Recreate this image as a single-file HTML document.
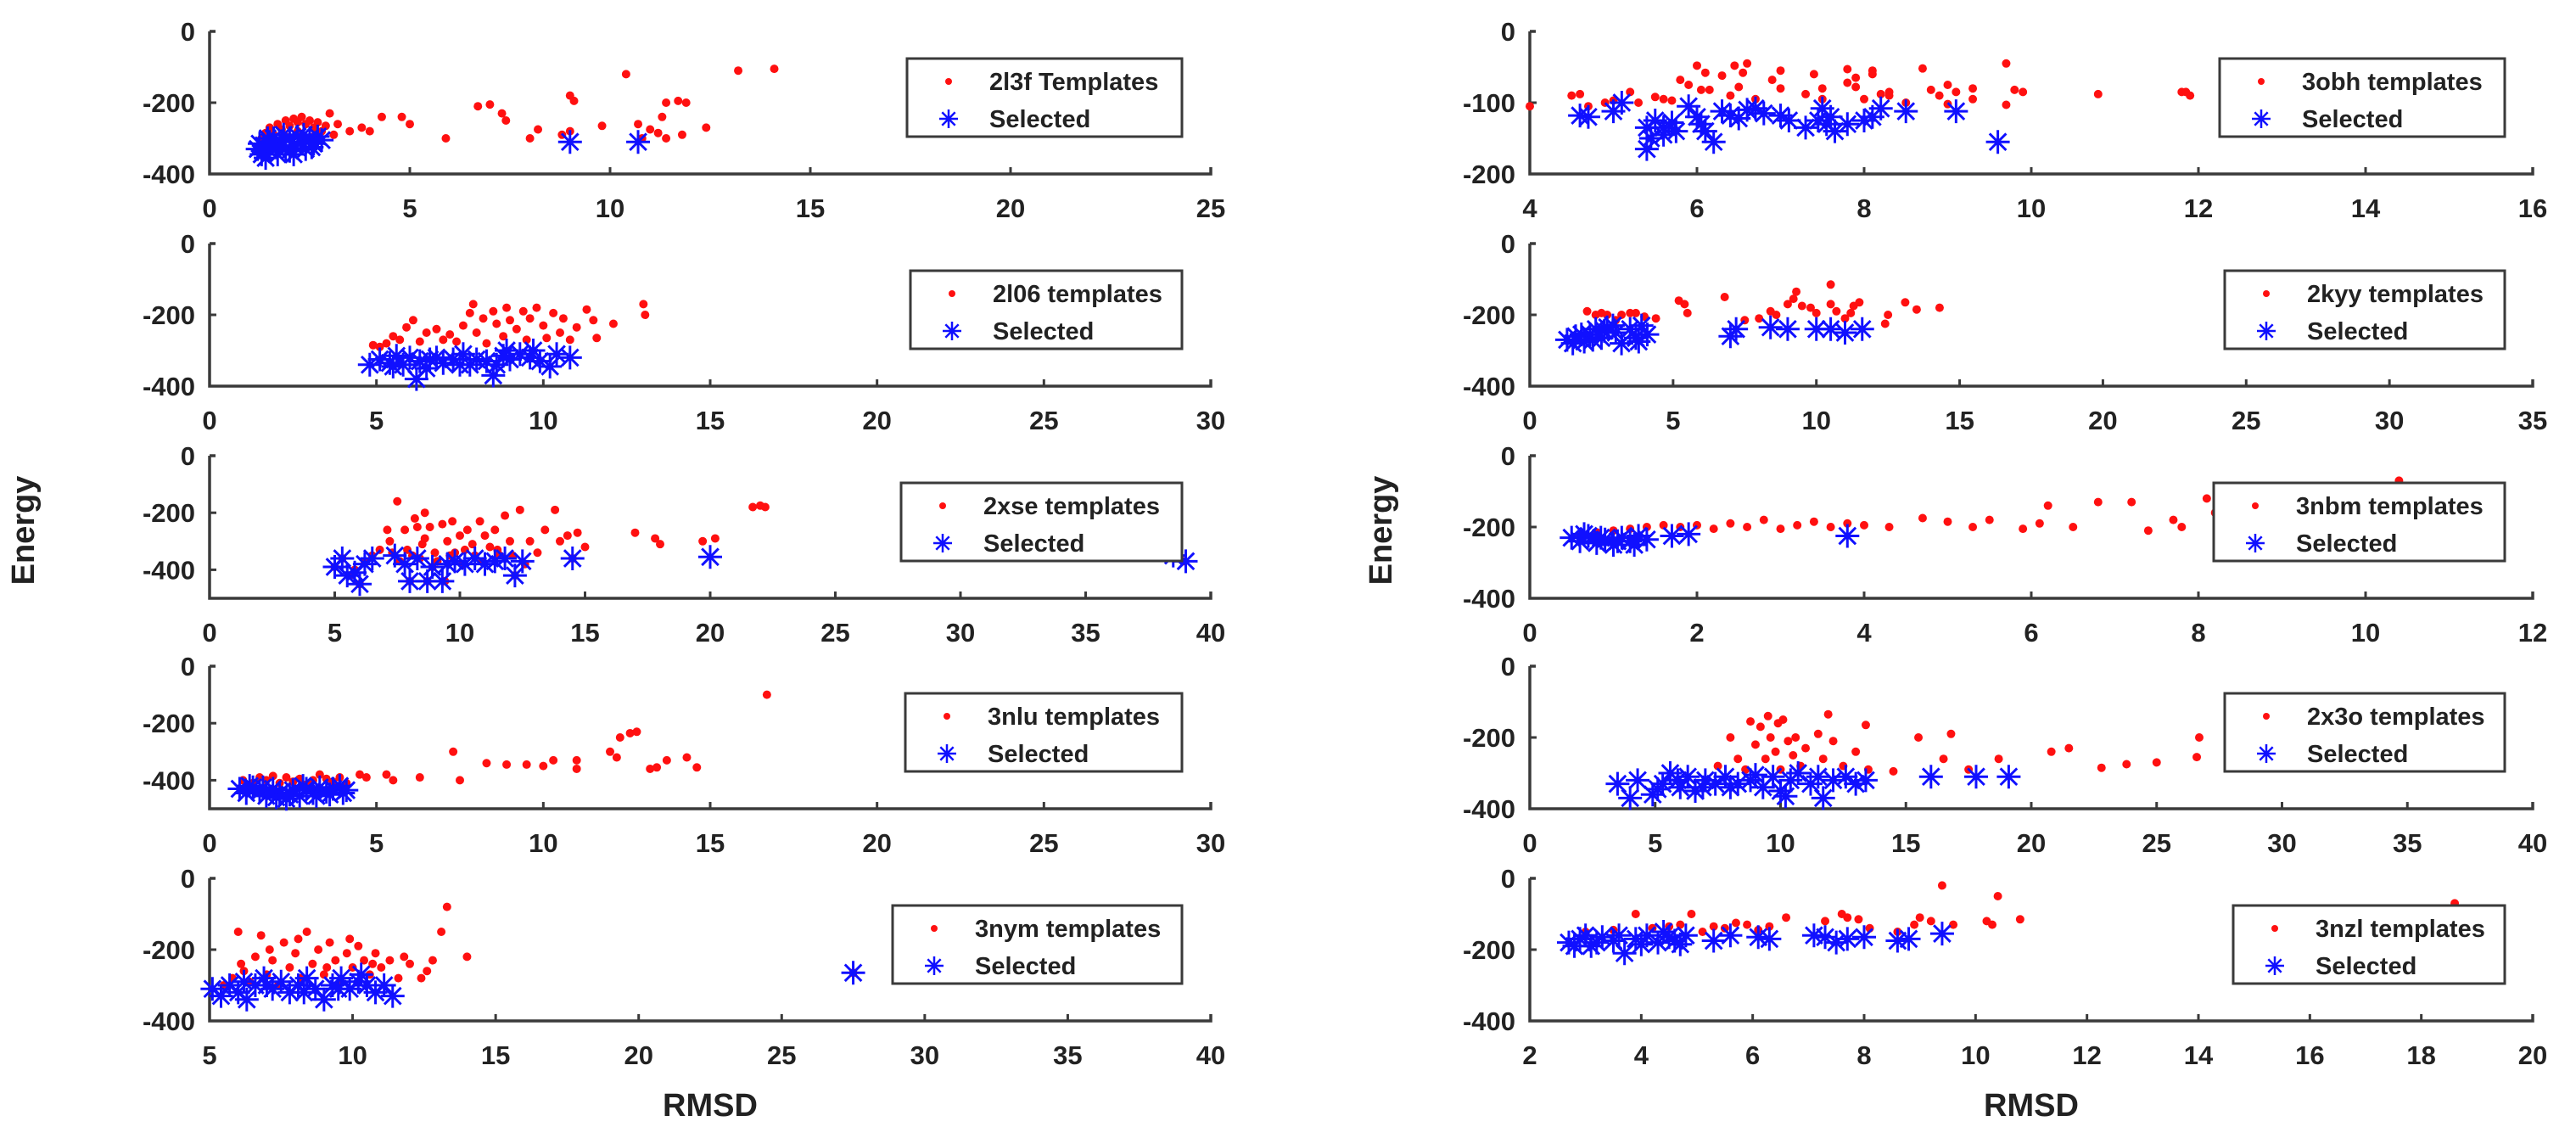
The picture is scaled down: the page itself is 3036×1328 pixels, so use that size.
<!DOCTYPE html>
<html><head><meta charset="utf-8"><style>
html,body{margin:0;padding:0;background:#fff;}
svg{display:block;font-family:"Liberation Sans",Arial,sans-serif;font-weight:bold;}
</style></head><body>
<svg id="chart" width="3036" height="1328" viewBox="0 0 3036 1328" xmlns="http://www.w3.org/2000/svg">
<rect width="3036" height="1328" fill="#fff"/>
<text transform="translate(40,625) rotate(-90)" text-anchor="middle" font-size="38" fill="#222">Energy</text>
<text transform="translate(1640,625) rotate(-90)" text-anchor="middle" font-size="38" fill="#222">Energy</text>
<text x="837" y="1315" text-anchor="middle" font-size="38" fill="#222">RMSD</text>
<text x="2394" y="1315" text-anchor="middle" font-size="38" fill="#222">RMSD</text>
</svg>
<script>
// ---- data ----
const panelNames = ["2l3f Templates","2l06 templates","2xse templates","3nlu templates","3nym templates","3obh templates","2kyy templates","3nbm templates","2x3o templates","3nzl templates"];
const xRanges = [[0,25],[0,30],[0,40],[0,30],[5,40],[4,16],[0,35],[0,12],[0,40],[2,20]];
const xTickLabels = [[0,5,10,15,20,25],[0,5,10,15,20,25,30],[0,5,10,15,20,25,30,35,40],[0,5,10,15,20,25,30],[5,10,15,20,25,30,35,40],[4,6,8,10,12,14,16],[0,5,10,15,20,25,30,35],[0,2,4,6,8,10,12],[0,5,10,15,20,25,30,35,40],[2,4,6,8,10,12,14,16,18,20]];
const yRanges = [[-400,0],[-400,0],[-500,0],[-500,0],[-400,0],[-200,0],[-400,0],[-400,0],[-400,0],[-400,0]];
const yTickLabels = [[0,-200,-400],[0,-200,-400],[0,-200,-400],[0,-200,-400],[0,-200,-400],[0,-100,-200],[0,-200,-400],[0,-200,-400],[0,-200,-400],[0,-200,-400]];

const tpl2l3f = [[1.3,-300],[1.4,-285],[1.5,-270],[1.6,-290],[1.7,-260],[1.8,-275],[1.9,-250],[2.0,-265],[2.1,-245],[2.2,-255],[2.3,-240],[2.4,-260],[2.5,-250],[2.6,-270],[2.7,-255],[2.8,-280],[2.9,-265],[3.0,-230],[2.2,-280],[1.9,-295],[2.6,-295],[3.1,-290],[3.2,-260],[3.5,-280],[3.8,-270],[4.0,-280],[4.3,-240],[4.8,-240],[5.0,-260],[5.9,-300],[6.7,-210],[7.0,-205],[7.3,-230],[7.4,-250],[8.0,-300],[8.2,-275],[8.8,-290],[9.0,-180],[9.1,-195],[9.0,-280],[9.8,-265],[10.4,-120],[10.7,-260],[10.8,-300],[11.0,-275],[11.2,-285],[11.4,-300],[11.3,-240],[11.4,-200],[11.7,-195],[11.9,-200],[11.8,-290],[12.4,-270],[13.2,-110],[14.1,-105]];
const sel2l3f = [[1.2,-330],[1.3,-345],[1.35,-320],[1.4,-355],[1.5,-310],[1.5,-335],[1.6,-300],[1.65,-325],[1.7,-345],[1.8,-310],[1.85,-290],[1.9,-330],[2.0,-300],[2.1,-320],[2.1,-345],[2.2,-295],[2.3,-310],[2.4,-330],[2.5,-300],[2.6,-315],[2.7,-295],[2.8,-305],[1.45,-300],[1.75,-320],[2.0,-335],[2.35,-290],[2.55,-325],[1.25,-315],[9.0,-310],[10.7,-310]];
const tpl2l06 = [[4.9,-285],[5.1,-290],[5.3,-280],[5.5,-260],[5.7,-270],[5.9,-235],[6.1,-215],[6.3,-275],[6.5,-250],[6.8,-240],[7.0,-270],[7.2,-255],[7.4,-275],[7.6,-230],[7.8,-195],[7.9,-170],[8.0,-250],[8.2,-210],[8.3,-280],[8.5,-190],[8.6,-225],[8.8,-260],[8.9,-180],[9.0,-215],[9.2,-240],[9.4,-190],[9.5,-270],[9.6,-210],[9.8,-180],[10.0,-230],[10.1,-265],[10.3,-195],[10.5,-250],[10.6,-210],[10.8,-270],[11.0,-235],[11.3,-185],[11.5,-215],[11.6,-265],[12.1,-225],[13.0,-170],[13.05,-200]];
const sel2l06 = [[4.8,-340],[5.1,-325],[5.4,-335],[5.6,-315],[5.8,-340],[6.0,-320],[6.2,-380],[6.3,-330],[6.5,-350],[6.8,-320],[7.0,-335],[7.3,-325],[7.6,-310],[7.8,-340],[8.0,-325],[8.3,-330],[8.5,-370],[8.6,-340],[8.8,-315],[9.0,-325],[9.3,-310],[9.6,-320],[9.9,-330],[10.2,-345],[10.4,-310],[10.8,-320],[5.5,-345],[6.6,-325],[7.5,-340],[8.9,-300],[9.7,-300]];
const tpl2xse = [[5,-390],[5.3,-360],[5.6,-420],[5.8,-400],[6,-450],[6.2,-370],[6.5,-350],[6.8,-330],[7.1,-260],[7.2,-300],[7.5,-160],[7.6,-370],[7.8,-260],[8.0,-440],[8.1,-350],[8.2,-220],[8.3,-250],[8.5,-310],[8.6,-200],[8.7,-440],[8.8,-250],[8.9,-390],[9.0,-340],[9.3,-240],[9.4,-440],[9.5,-300],[9.7,-230],[9.8,-340],[10.0,-280],[10.1,-380],[10.3,-260],[10.5,-310],[10.6,-350],[10.8,-230],[11.0,-280],[11.2,-320],[11.4,-260],[11.6,-350],[11.8,-210],[12.0,-300],[12.2,-420],[12.4,-190],[12.6,-380],[12.8,-300],[13.1,-340],[13.4,-260],[13.8,-190],[14.0,-300],[14.3,-280],[14.5,-360],[14.7,-270],[15.0,-320],[7.9,-330],[8.4,-360],[9.1,-370],[9.6,-350],[10.2,-330],[10.9,-370],[11.5,-330],[12.1,-350],[7.3,-340],[8.6,-290],[17,-270],[17.8,-290],[18,-310],[19.7,-300],[20.2,-290],[21.7,-180],[22,-175],[22.2,-180],[38.9,-370]];
const sel2xse = [[5,-390],[5.3,-360],[5.5,-420],[5.8,-410],[6,-450],[6.2,-380],[6.5,-360],[7.4,-350],[7.8,-380],[8.0,-440],[8.3,-360],[8.7,-440],[8.9,-390],[9.3,-440],[9.5,-380],[9.8,-370],[10.2,-380],[10.6,-360],[11.0,-380],[11.4,-370],[11.8,-360],[12.2,-420],[12.5,-370],[14.5,-360],[20,-355],[38.5,-350],[39,-370]];
const tpl3nlu = [[1.0,-400],[1.3,-410],[1.5,-390],[1.7,-400],[1.9,-385],[2.1,-410],[2.3,-390],[2.5,-405],[2.7,-395],[2.9,-415],[3.1,-400],[3.3,-380],[3.5,-395],[3.7,-405],[3.9,-390],[4.1,-410],[4.5,-380],[4.7,-390],[5.3,-380],[5.5,-400],[6.3,-390],[7.3,-300],[7.5,-400],[8.3,-340],[8.9,-345],[9.5,-345],[10.0,-350],[10.3,-330],[11.0,-330],[11.0,-360],[12.0,-300],[12.2,-320],[12.3,-250],[12.6,-235],[12.8,-230],[13.2,-360],[13.4,-355],[13.7,-330],[14.3,-320],[14.6,-355],[16.7,-100]];
const sel3nlu = [[0.9,-430],[1.1,-445],[1.3,-425],[1.5,-440],[1.7,-455],[1.9,-430],[2.1,-445],[2.3,-465],[2.5,-435],[2.7,-455],[2.9,-430],[3.1,-445],[3.3,-425],[3.5,-440],[3.7,-430],[3.9,-420],[4.1,-435],[1.2,-420],[1.6,-425],[2.0,-460],[2.4,-450],[2.8,-420],[3.2,-455],[3.6,-450],[4.0,-445]];
const tpl3nym = [[5.5,-300],[5.8,-280],[6.0,-150],[6.2,-260],[6.4,-290],[6.6,-220],[6.8,-160],[7.0,-270],[7.2,-230],[7.4,-300],[7.6,-180],[7.8,-250],[8.0,-210],[8.2,-280],[8.4,-150],[8.6,-240],[8.8,-200],[9.0,-270],[9.2,-180],[9.4,-230],[9.6,-290],[9.8,-210],[10.0,-250],[10.2,-190],[10.4,-230],[10.6,-270],[10.8,-210],[11.0,-250],[11.3,-230],[11.6,-280],[12.0,-240],[12.4,-280],[12.8,-230],[13.1,-150],[13.3,-80],[14,-220],[6.1,-240],[7.1,-200],[8.1,-170],[9.1,-250],[9.9,-170],[10.7,-240],[11.8,-220],[12.6,-260],[27.5,-265]];
const sel3nym = [[5.1,-310],[5.4,-330],[5.7,-300],[6.0,-320],[6.3,-340],[6.6,-300],[6.9,-280],[7.2,-310],[7.5,-290],[7.8,-320],[8.1,-300],[8.4,-280],[8.7,-310],[9.0,-340],[9.3,-300],[9.6,-280],[9.9,-310],[10.2,-290],[10.5,-300],[10.8,-320],[11.1,-300],[11.4,-330],[6.2,-290],[7.0,-300],[8.3,-320],[9.5,-310],[10.3,-270],[27.5,-265]];
const tpl3obh = [[4,-105],[4.5,-90],[4.6,-88],[4.7,-105],[4.9,-100],[5,-97],[5.2,-85],[5.3,-100],[5.5,-92],[5.6,-95],[5.7,-97],[5.8,-68],[5.9,-75],[6,-48],[6.05,-82],[6.1,-58],[6.15,-82],[6.3,-62],[6.4,-90],[6.45,-48],[6.5,-78],[6.6,-45],[6.55,-58],[6.7,-95],[6.9,-68],[7,-80],[7,-55],[7.4,-60],[7.3,-88],[7.5,-95],[7.5,-80],[7.8,-53],[7.8,-72],[7.9,-78],[7.9,-65],[8,-95],[8.1,-55],[8.1,-60],[8.2,-88],[8.3,-85],[8.3,-90],[8.5,-100],[8.7,-52],[8.8,-82],[8.9,-90],[9,-102],[9,-75],[9.1,-85],[9.3,-80],[9.3,-95],[9.7,-45],[9.8,-82],[9.7,-103],[9.9,-85],[10.8,-88],[11.8,-85],[11.9,-90],[11.85,-85]];
const sel3obh = [[4.6,-118],[4.7,-120],[5,-112],[5.1,-100],[5.4,-135],[5.5,-125],[5.6,-145],[5.6,-135],[5.4,-165],[5.7,-128],[5.9,-105],[6,-120],[6.1,-140],[6.2,-155],[6.3,-112],[6.4,-118],[6.5,-122],[6.6,-110],[6.8,-115],[7,-118],[7.1,-125],[7.3,-135],[7.5,-108],[7.55,-130],[7.6,-120],[7.8,-130],[8,-125],[8.1,-120],[8.2,-108],[8.5,-112],[5.45,-150],[5.75,-140],[6.05,-130],[6.7,-108],[7.45,-125],[7.65,-140],[9.1,-112],[9.6,-155]];
const tpl2kyy = [[2,-190],[2.3,-200],[2.5,-195],[2.7,-200],[3,-215],[3.2,-200],[3.5,-195],[3.7,-195],[4,-205],[4.4,-210],[5.2,-160],[5.4,-170],[5.5,-195],[6.8,-150],[7.5,-215],[8,-210],[8.4,-190],[8.6,-200],[9,-170],[9.2,-155],[9.3,-135],[9.5,-175],[9.8,-180],[10,-195],[10.5,-115],[10.5,-170],[10.7,-190],[11,-210],[11.2,-195],[11.3,-175],[11.5,-165],[12.5,-200],[12.4,-225],[13.1,-165],[13.5,-185],[14.3,-180]];
const sel2kyy = [[1.3,-270],[1.6,-260],[1.9,-275],[2.1,-255],[2.3,-240],[2.5,-265],[2.7,-235],[3.0,-250],[3.2,-280],[3.5,-240],[3.7,-265],[3.9,-230],[4.1,-255],[1.5,-280],[1.8,-255],[2.2,-270],[2.6,-245],[2.9,-230],[3.8,-275],[7,-260],[7.2,-240],[8.4,-235],[9,-240],[10,-240],[10.5,-240],[11,-250],[11.6,-240]];
const tpl3nbm = [[0.6,-220],[0.8,-215],[1.0,-210],[1.2,-205],[1.4,-200],[1.6,-195],[1.8,-200],[2,-195],[2.2,-205],[2.4,-190],[2.6,-200],[2.8,-180],[3,-205],[3.2,-195],[3.4,-185],[3.6,-200],[3.8,-190],[4,-195],[4.3,-200],[4.7,-175],[5,-185],[5.3,-200],[5.5,-180],[5.9,-205],[6.1,-190],[6.2,-140],[6.5,-200],[6.8,-130],[7.2,-130],[7.4,-210],[7.7,-180],[7.8,-200],[8.1,-120],[8.2,-160],[10.4,-70]];
const sel3nbm = [[0.5,-230],[0.6,-240],[0.7,-225],[0.8,-245],[0.9,-235],[1.0,-250],[1.1,-230],[1.2,-240],[1.3,-225],[0.65,-220],[0.85,-230],[1.05,-240],[1.25,-250],[1.4,-235],[1.7,-225],[1.9,-220],[3.8,-225]];
const tpl2x3o = [[7.5,-280],[8,-200],[8.3,-260],[8.6,-290],[8.8,-155],[9,-220],[9.2,-170],[9.4,-260],[9.5,-140],[9.6,-200],[9.8,-240],[9.9,-160],[10.0,-290],[10.1,-150],[10.3,-210],[10.5,-250],[10.6,-200],[10.8,-280],[11,-230],[11.5,-190],[11.7,-260],[11.9,-135],[12.1,-210],[12.5,-280],[13.0,-240],[13.4,-165],[13.5,-290],[14.5,-295],[15.5,-200],[16.5,-260],[16.8,-190],[17.5,-290],[18.7,-260],[20.8,-240],[21.5,-230],[22.8,-285],[23.8,-275],[25,-270],[26.6,-255],[26.7,-200],[38.5,-145]];
const sel2x3o = [[3.5,-330],[4,-370],[4.3,-320],[4.9,-360],[5.3,-330],[5.6,-300],[6.0,-340],[6.3,-310],[6.6,-350],[7.0,-320],[7.4,-330],[7.8,-310],[8.3,-330],[8.8,-320],[9.3,-340],[9.7,-310],[10.0,-350],[10.4,-320],[10.7,-300],[11.2,-330],[11.7,-370],[12.1,-320],[12.6,-310],[13.0,-330],[13.4,-320],[5.1,-345],[5.9,-320],[6.9,-340],[8.0,-340],[9.0,-305],[10.2,-365],[11.5,-310],[16,-310],[17.8,-310],[19.1,-310]];
const tpl3nzl = [[3.0,-150],[3.5,-145],[3.9,-100],[4.2,-140],[4.5,-135],[4.7,-130],[4.9,-100],[5.1,-150],[5.3,-135],[5.5,-140],[5.7,-125],[5.9,-130],[6.1,-145],[6.3,-135],[6.6,-110],[7.3,-120],[7.6,-100],[7.7,-110],[7.9,-115],[8.1,-140],[8.6,-150],[8.9,-130],[9.0,-110],[9.2,-120],[9.6,-130],[9.4,-20],[10.2,-120],[10.3,-130],[10.4,-50],[10.8,-115],[18.6,-70]];
const sel3nzl = [[2.7,-180],[2.9,-170],[3.1,-190],[3.3,-165],[3.5,-175],[3.7,-210],[3.9,-170],[4.1,-160],[4.3,-180],[4.5,-165],[4.7,-185],[5.3,-175],[5.6,-160],[6.1,-165],[6.3,-170],[7.1,-160],[7.3,-165],[7.7,-170],[8.0,-165],[8.6,-175],[8.8,-170],[2.8,-190],[3.0,-160],[3.2,-180],[3.6,-160],[4.0,-185],[4.4,-150],[4.6,-175],[4.8,-160],[7.5,-180],[9.4,-155]];

const templateSeries = [tpl2l3f,tpl2l06,tpl2xse,tpl3nlu,tpl3nym,tpl3obh,tpl2kyy,tpl3nbm,tpl2x3o,tpl3nzl];
const selectedSeries = [sel2l3f,sel2l06,sel2xse,sel3nlu,sel3nym,sel3obh,sel2kyy,sel3nbm,sel2x3o,sel3nzl];

// ---- layout ----
const NS = "http://www.w3.org/2000/svg";
const svg = document.getElementById("chart");
const colLeft = [247, 1803], colRight = [1427, 2985];
const rowTop = [37, 287, 537, 785, 1035], plotH = 168;
const legendLeftX = [1069,1073,1062,1067,1052,2616,2622,2609,2622,2632];
const legendRightX = [1393, 2952];

function mk(tag, attrs, parent){
  const e = document.createElementNS(NS, tag);
  for (const k in attrs) e.setAttribute(k, attrs[k]);
  (parent||svg).appendChild(e);
  return e;
}
function asterisk(g, cx, cy, r, sw){
  const d = `M${cx-r},${cy}H${cx+r}M${cx},${cy-r}V${cy+r}M${cx-r*0.7},${cy-r*0.7}L${cx+r*0.7},${cy+r*0.7}M${cx-r*0.7},${cy+r*0.7}L${cx+r*0.7},${cy-r*0.7}`;
  return mk("path", {d:d, stroke:"#1010ff", "stroke-width":sw, fill:"none"}, g);
}

for (let i = 0; i < 10; i++){
  const col = i < 5 ? 0 : 1, row = i % 5;
  const x0 = colLeft[col], x1 = colRight[col];
  const yTop = rowTop[row], yBot = yTop + plotH;
  const [xmin, xmax] = xRanges[i], [ymin, ymax] = yRanges[i];
  const sx = v => x0 + (v - xmin) / (xmax - xmin) * (x1 - x0);
  const sy = v => yBot - (v - ymin) / (ymax - ymin) * plotH;

  const g = mk("g", {});
  
  

  const ax = mk("path", {d:`M${x0},${sy(0)}H${x0+7}M${x0},${sy(0)}V${yBot}H${x1}V${yBot-8}`, stroke:"#3a3a3a", "stroke-width":3.5, fill:"none"}, g);
  
  

  xTickLabels[i].forEach(v => {
    const x = sx(v);
    if (v !== xmin && v !== xmax) {
      const t = mk("line", {x1:x, x2:x, y1:yBot, y2:yBot-8, stroke:"#3a3a3a", "stroke-width":3}, g);
      
      
    }
    const lbl = mk("text", {x:x, y:yBot+51, "text-anchor":"middle", "font-size":31, fill:"#222"}, g);
    
    
    lbl.textContent = v;
  });
  yTickLabels[i].forEach(v => {
    const y = sy(v);
    if (v !== ymin && v !== 0) {
      const t = mk("line", {x1:x0, x2:x0+8, y1:y, y2:y, stroke:"#3a3a3a", "stroke-width":3}, g);
      
      
    }
    const lbl = mk("text", {x:x0-17, y:y+11, "text-anchor":"end", "font-size":31, fill:"#222"}, g);
    
    
    lbl.textContent = v;
  });

  const tg = mk("g", {}, g);
  
  
  templateSeries[i].forEach(p => {
    const c = mk("circle", {cx:sx(p[0]), cy:sy(p[1]), r:5, fill:"#ff1010"}, tg);
    
    
  });
  const sg = mk("g", {}, g);
  
  
  selectedSeries[i].forEach(p => {
    const a = asterisk(sg, sx(p[0]), sy(p[1]), 14, 3);
    
    
  });

  const lx = legendLeftX[i], rx = legendRightX[col], ly = yTop + 32;
  const lg = mk("g", {}, g);
  
  
  const box = mk("rect", {x:lx, y:ly, width:rx-lx, height:92, fill:"#fff", stroke:"#3a3a3a", "stroke-width":3}, lg);
  
  
  const ld = mk("circle", {cx:lx+49, cy:ly+27, r:4, fill:"#ff1010"}, lg);
  
  
  const t1 = mk("text", {x:lx+97, y:ly+37, "font-size":29, fill:"#222"}, lg);
  
  
  t1.textContent = panelNames[i];
  const la = asterisk(lg, lx+49, ly+71, 11, 2.5);
  
  
  const t2 = mk("text", {x:lx+97, y:ly+81, "font-size":29, fill:"#222"}, lg);
  
  
  t2.textContent = "Selected";
}
</script>
</body></html>
